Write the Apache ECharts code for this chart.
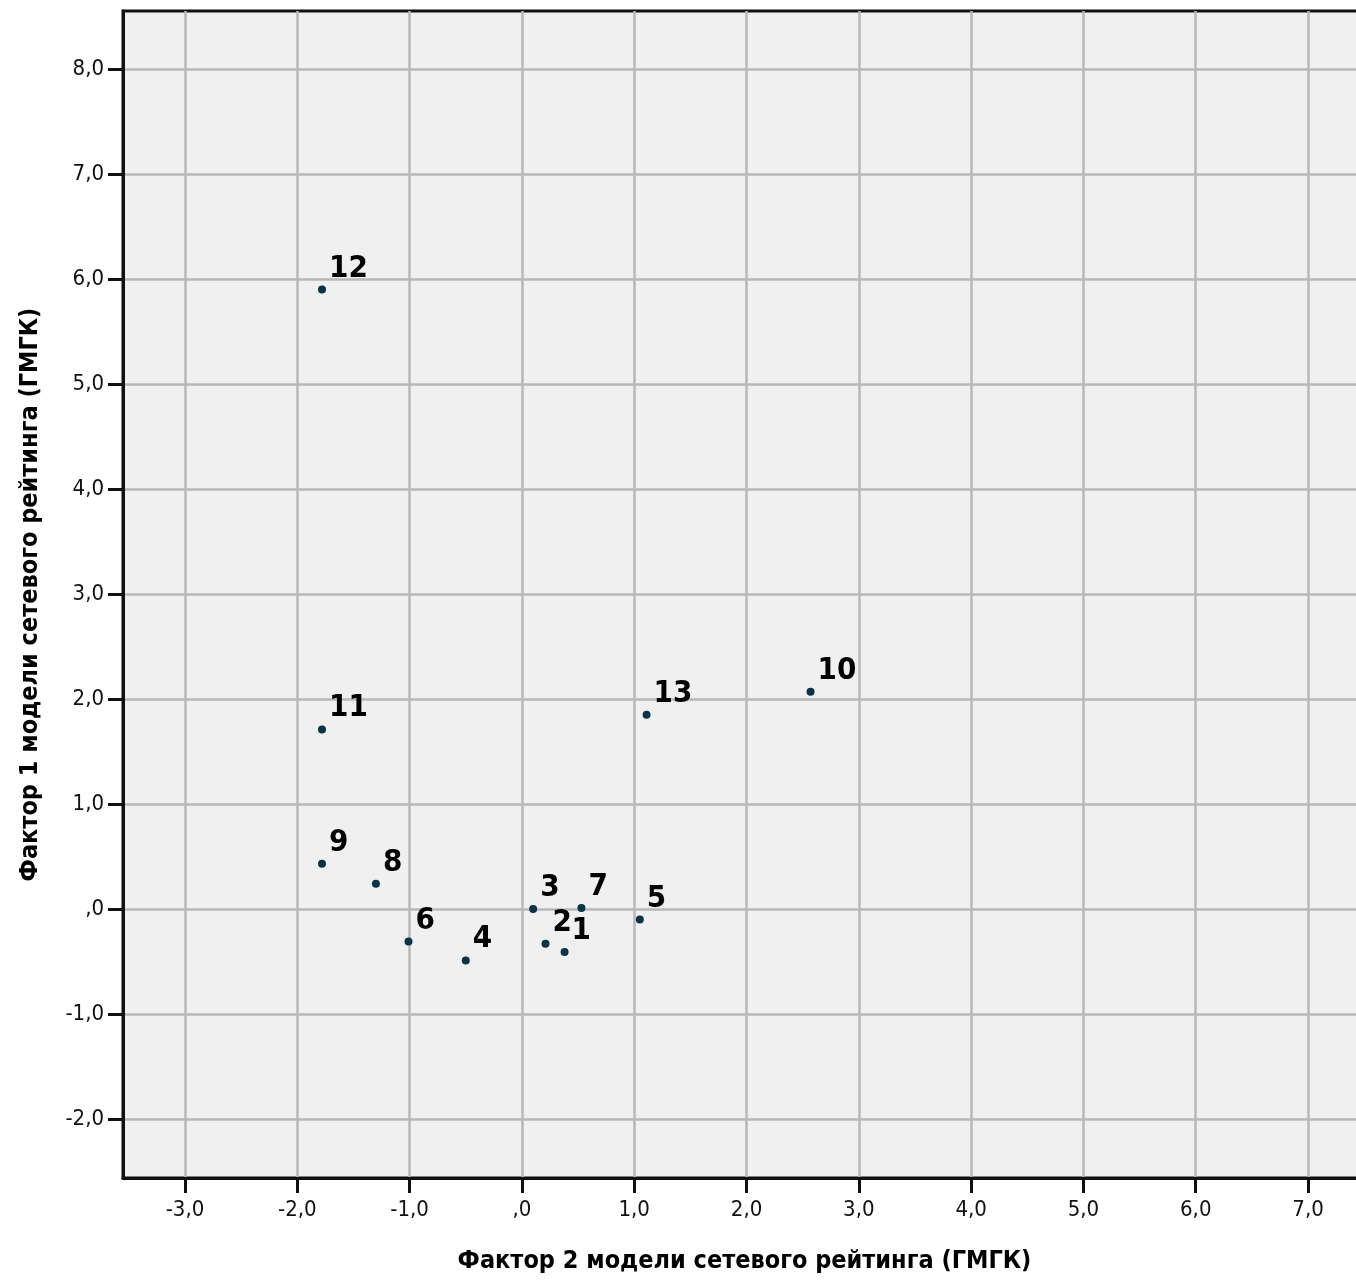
<!DOCTYPE html>
<html>
<head>
<meta charset="utf-8">
<title>Факторы модели сетевого рейтинга</title>
<script src="https://cdn.jsdelivr.net/npm/echarts@6/dist/echarts.min.js"></script>
<style>
  html, body { margin: 0; padding: 0; background: #ffffff; overflow: hidden; }
  /* the plot frame runs slightly past the right edge of the window */
  #chart { width: 1370px; height: 1282px; }
</style>
</head>
<body>
<div id="chart"></div>
<script>
// Case numbers shown next to each point
const caseIds = ['1', '2', '3', '4', '5', '6', '7', '8', '9', '10', '11', '12', '13'];
// Factor 2 scores (horizontal axis)
const factor2 = [0.38, 0.21, 0.10, -0.50, 1.05, -1.01, 0.53, -1.30, -1.78, 2.57, -1.78, -1.78, 1.11];
// Factor 1 scores (vertical axis)
const factor1 = [-0.41, -0.33, 0.00, -0.49, -0.10, -0.31, 0.01, 0.24, 0.43, 2.07, 1.71, 5.90, 1.85];
// Tick values on both axes
const xTicks = [-3, -2, -1, 0, 1, 2, 3, 4, 5, 6, 7];
const yTicks = [-2, -1, 0, 1, 2, 3, 4, 5, 6, 7, 8];

const xTitle = 'Фактор 2 модели сетевого рейтинга (ГМГК)';
const yTitle = 'Фактор 1 модели сетевого рейтинга (ГМГК)';

// Decimal comma, zero printed as ",0"
function fmt(v) {
  if (Math.abs(v) < 1e-9) return ',0';
  return v.toFixed(1).replace('.', ',');
}

const points = factor2.map((x, i) => ({ value: [x, factor1[i]], name: caseIds[i] }));

const tickFont = '"DejaVu Sans Condensed", "Liberation Sans Narrow", "Roboto", sans-serif';
const boldFont = '"Liberation Sans Narrow", "DejaVu Sans Condensed", "Roboto", sans-serif';

const chart = echarts.init(document.getElementById('chart'), null, { renderer: 'canvas' });

chart.setOption({
  animation: false,
  backgroundColor: '#ffffff',
  grid: {
    left: 123,
    top: 11,
    right: 4,
    bottom: 104,
    show: true,
    backgroundColor: '#f0f0f0',
    borderColor: '#111111',
    borderWidth: 3
  },
  xAxis: {
    type: 'value',
    min: -3.552,
    max: 7.516,
    name: xTitle,
    nameLocation: 'middle',
    nameGap: 71,
    nameTextStyle: {
      fontFamily: boldFont, fontWeight: 'bold', fontSize: 25, color: '#000000'
    },
    axisLine: { show: true, onZero: false, lineStyle: { color: '#111111', width: 3 } },
    axisTick: { show: true, customValues: xTicks, length: 15, lineStyle: { color: '#111111', width: 3 } },
    axisLabel: {
      customValues: xTicks, formatter: fmt, margin: 21,
      fontFamily: tickFont, fontSize: 22, color: '#111111'
    },
    splitLine: { show: true, lineStyle: { color: '#b8b8b8', width: 2.5 } }
  },
  yAxis: {
    type: 'value',
    min: -2.562,
    max: 8.552,
    name: yTitle,
    nameLocation: 'middle',
    nameGap: 80,
    nameRotate: 90,
    nameTextStyle: {
      fontFamily: boldFont, fontWeight: 'bold', fontSize: 25, color: '#000000'
    },
    axisLine: { show: true, onZero: false, lineStyle: { color: '#111111', width: 3 } },
    axisTick: { show: true, customValues: yTicks, length: 15, lineStyle: { color: '#111111', width: 3 } },
    axisLabel: {
      customValues: yTicks, formatter: fmt, margin: 19,
      fontFamily: tickFont, fontSize: 22, color: '#111111'
    },
    splitLine: { show: true, lineStyle: { color: '#b8b8b8', width: 2.5 } }
  },
  series: [{
    type: 'scatter',
    data: points,
    symbol: 'circle',
    symbolSize: 8,
    itemStyle: { color: '#0b3345', opacity: 1 },
    label: {
      show: true,
      position: 'right',
      distance: 3,
      offset: [0, -21],
      formatter: p => p.name,
      fontFamily: boldFont,
      fontWeight: 'bold',
      fontSize: 31,
      color: '#000000'
    },
    emphasis: { disabled: true }
  }]
});
</script>
</body>
</html>
